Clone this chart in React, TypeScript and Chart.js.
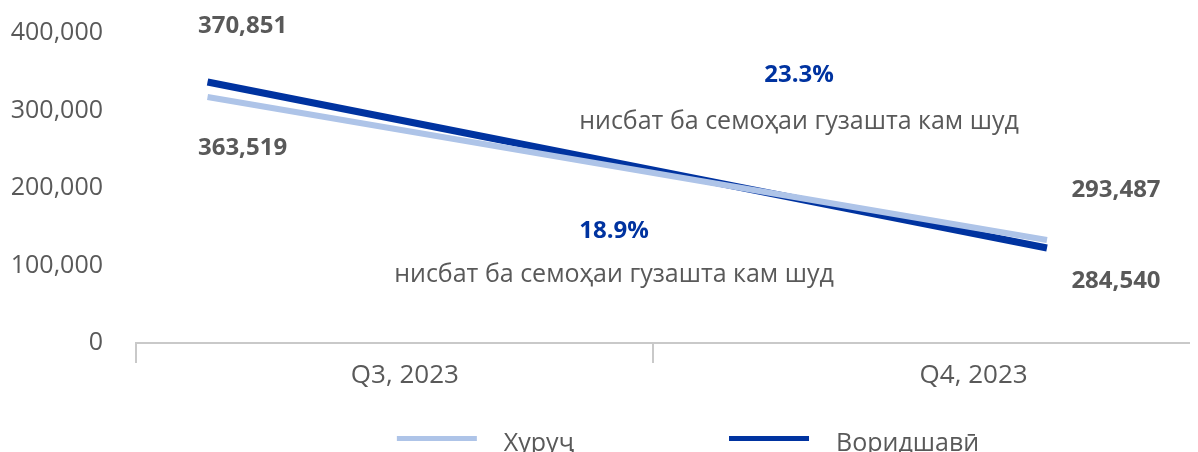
import React, { useEffect, useRef } from 'react';
import { Chart, registerables } from 'chart.js';

Chart.register(...registerables);

// ---- data ----
const categories = ['Q3, 2023', 'Q4, 2023'];
const seriesNames = ['Хуруҷ', 'Воридшавӣ'];
const outflowValues = [363519, 293487];
const inflowValues = [370851, 284540];
const yTickValues = [0, 100000, 200000, 300000, 400000];
const changePercents = ['23.3%', '18.9%'];
const changeNotes = ['нисбат ба семоҳаи гузашта кам шуд', 'нисбат ба семоҳаи гузашта кам шуд'];

// ---- styles ----
const LIGHT = '#aec4e8';
const DARK = '#0033a0';
const GRAY = '#595959';
const AXIS = '#c9c9c9';
const FONT = "'Open Sans', 'Noto Sans', 'DejaVu Sans', sans-serif";

const fmt = (v: number) => v.toLocaleString('en-US');

// value label offsets from their points, [series][category]
const valueLabelOffsets = [
  [{ dx: 35, dy: 58 }, { dx: 69, dy: -43 }],
  [{ dx: 35, dy: -49.5 }, { dx: 69, dy: 40 }],
];
// annotation positions (canvas px)
const annotationPos = [
  { x: 791, yPct: 74, yNote: 121 },
  { x: 606, yPct: 230, yNote: 274 },
];

const valueLabelsPlugin = {
  id: 'valueLabels',
  afterDatasetsDraw(chart: any) {
    const { ctx } = chart;
    ctx.save();
    ctx.font = `bold 24px ${FONT}`;
    ctx.fillStyle = GRAY;
    ctx.textAlign = 'center';
    ctx.textBaseline = 'alphabetic';
    chart.data.datasets.forEach((ds: any, di: number) => {
      const meta = chart.getDatasetMeta(di);
      meta.data.forEach((el: any, i: number) => {
        const off = valueLabelOffsets[di][i];
        ctx.fillText(fmt(ds.data[i].y), el.x + off.dx, el.y + off.dy);
      });
    });
    ctx.restore();
  },
};

const annotationsPlugin = {
  id: 'annotations',
  afterDraw(chart: any) {
    const { ctx } = chart;
    ctx.save();
    ctx.textAlign = 'center';
    ctx.textBaseline = 'alphabetic';
    annotationPos.forEach((p, i) => {
      ctx.font = `bold 24px ${FONT}`;
      ctx.fillStyle = DARK;
      ctx.fillText(changePercents[i], p.x, p.yPct);
      ctx.font = `25px ${FONT}`;
      ctx.fillStyle = GRAY;
      ctx.fillText(changeNotes[i], p.x, p.yNote);
    });
    ctx.restore();
  },
};

const legendPlugin = {
  id: 'lineLegend',
  afterDraw(chart: any) {
    const { ctx } = chart;
    ctx.save();
    ctx.font = `25px ${FONT}`;
    ctx.textBaseline = 'alphabetic';
    ctx.textAlign = 'left';
    const sample = 80;
    const textGap = 27;
    const itemGap = 155;
    const items = chart.data.datasets.map((ds: any) => ({
      text: ds.label,
      color: ds.borderColor,
      w: ctx.measureText(ds.label).width,
    }));
    let total = 0;
    items.forEach((it: any, i: number) => {
      total += sample + textGap + it.w + (i > 0 ? itemGap : 0);
    });
    let x = 680 - total / 2;
    const lineY = 430.5;
    const textY = 443;
    items.forEach((it: any) => {
      ctx.fillStyle = it.color;
      ctx.fillRect(x, lineY - 2.5, sample, 5);
      ctx.fillStyle = GRAY;
      ctx.fillText(it.text, x + sample + textGap, textY);
      x += sample + textGap + it.w + itemGap;
    });
    ctx.restore();
  },
};

export default function App() {
  const ref = useRef<HTMLCanvasElement | null>(null);

  useEffect(() => {
    if (!ref.current) return;
    const chart = new Chart(ref.current, {
      type: 'line',
      data: {
        datasets: [
          {
            label: seriesNames[0],
            data: outflowValues.map((v, i) => ({ x: i, y: v })),
            borderColor: LIGHT,
            backgroundColor: LIGHT,
            borderWidth: 6,
            pointRadius: 0,
            tension: 0,
            xAxisID: 'x2',
            yAxisID: 'yOut',
          },
          {
            label: seriesNames[1],
            data: inflowValues.map((v, i) => ({ x: i, y: v })),
            borderColor: DARK,
            backgroundColor: DARK,
            borderWidth: 7,
            pointRadius: 0,
            tension: 0,
            xAxisID: 'x2',
            yAxisID: 'yIn',
          },
        ],
      },
      options: {
        animation: false,
        responsive: true,
        maintainAspectRatio: false,
        layout: { padding: { top: 25, right: 0, bottom: 0, left: 0 } },
        plugins: {
          legend: { display: false },
          tooltip: { enabled: false },
        },
        scales: {
          x: {
            type: 'linear',
            position: 'bottom',
            min: 0,
            max: 2.054,
            afterBuildTicks: (scale: any) => {
              scale.ticks = [0, 0.52, 1, 1.62].map((v) => ({ value: v }));
            },
            afterFit: (scale: any) => {
              scale.height = 109;
            },
            ticks: {
              autoSkip: false,
              maxRotation: 0,
              minRotation: 0,
              padding: 0,
              color: GRAY,
              font: { family: FONT, size: 26, lineHeight: 1 },
              callback: (_v: any, index: number) =>
                index === 1 ? categories[0] : index === 3 ? categories[1] : '',
            },
            grid: {
              drawOnChartArea: false,
              drawTicks: true,
              tickLength: 20,
              lineWidth: 2,
              color: (c: any) => (c.tick && Number.isInteger(c.tick.value) ? AXIS : 'rgba(0,0,0,0)'),
              tickColor: (c: any) => (c.tick && Number.isInteger(c.tick.value) ? AXIS : 'rgba(0,0,0,0)'),
            },
            border: { display: true, color: AXIS, width: 2 },
          },
          x2: {
            type: 'linear',
            display: false,
            min: -0.0852,
            max: 1.1799,
          },
          y: {
            type: 'linear',
            position: 'left',
            min: 0,
            max: 400000,
            afterBuildTicks: (scale: any) => {
              scale.ticks = yTickValues.map((v) => ({ value: v }));
            },
            afterFit: (scale: any) => {
              scale.width = 128;
            },
            ticks: {
              padding: 3,
              color: GRAY,
              font: { family: FONT, size: 25 },
              callback: (v: any) => fmt(Number(v)),
            },
            grid: {
              display: true,
              drawOnChartArea: false,
              drawTicks: true,
              tickLength: 30,
              color: 'rgba(0,0,0,0)',
              tickColor: 'rgba(0,0,0,0)',
            },
            border: { display: false },
          },
          yIn: {
            type: 'linear',
            display: false,
            min: 235150,
            max: 396330,
          },
          yOut: {
            type: 'linear',
            display: false,
            min: 243050,
            max: 394860,
          },
        },
      } as any,
      plugins: [valueLabelsPlugin, annotationsPlugin, legendPlugin],
    });
    return () => chart.destroy();
  }, []);

  return (
    <div style={{ width: 1190, height: 444, position: 'relative' }}>
      <canvas ref={ref} />
    </div>
  );
}
